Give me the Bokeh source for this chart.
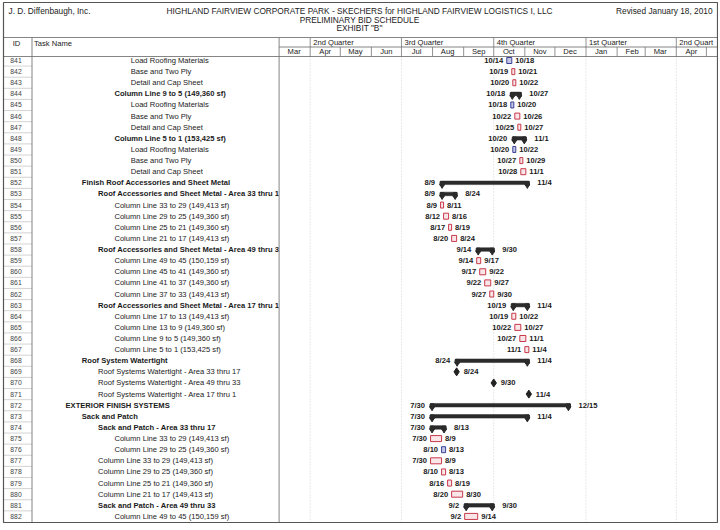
import pandas as pd
from bokeh.plotting import figure
from bokeh.models import Range1d, ColumnDataSource
from bokeh.core.properties import value
from bokeh.embed import file_html
from bokeh.resources import INLINE

# ---------------- data ----------------
ids = list(range(841, 883))
names = [
    "Load Roofing Materials", "Base and Two Ply", "Detail and Cap Sheet",
    "Column Line 9 to 5 (149,360 sf)",
    "Load Roofing Materials", "Base and Two Ply", "Detail and Cap Sheet",
    "Column Line 5 to 1 (153,425 sf)",
    "Load Roofing Materials", "Base and Two Ply", "Detail and Cap Sheet",
    "Finish Roof Accessories and Sheet Metal",
    "Roof Accessories and Sheet Metal - Area 33 thru 17",
    "Column Line 33 to 29 (149,413 sf)", "Column Line 29 to 25 (149,360 sf)",
    "Column Line 25 to 21 (149,360 sf)", "Column Line 21 to 17 (149,413 sf)",
    "Roof Accessories and Sheet Metal - Area 49 thru 33",
    "Column Line 49 to 45 (150,159 sf)", "Column Line 45 to 41 (149,360 sf)",
    "Column Line 41 to 37 (149,360 sf)", "Column Line 37 to 33 (149,413 sf)",
    "Roof Accessories and Sheet Metal - Area 17 thru 1",
    "Column Line 17 to 13 (149,413 sf)", "Column Line 13 to 9 (149,360 sf)",
    "Column Line 9 to 5 (149,360 sf)", "Column Line 5 to 1 (153,425 sf)",
    "Roof System Watertight",
    "Roof Systems Watertight - Area 33 thru 17",
    "Roof Systems Watertight - Area 49 thru 33",
    "Roof Systems Watertight - Area 17 thru 1",
    "EXTERIOR FINISH SYSTEMS",
    "Sack and Patch",
    "Sack and Patch - Area 33 thru 17",
    "Column Line 33 to 29 (149,413 sf)", "Column Line 29 to 25 (149,360 sf)",
    "Column Line 33 to 29 (149,413 sf)", "Column Line 29 to 25 (149,360 sf)",
    "Column Line 25 to 21 (149,360 sf)", "Column Line 21 to 17 (149,413 sf)",
    "Sack and Patch - Area 49 thru 33",
    "Column Line 49 to 45 (150,159 sf)",
]
levels = [4, 4, 4, 3, 4, 4, 4, 3, 4, 4, 4,
          1, 2, 3, 3, 3, 3, 2, 3, 3, 3, 3, 2, 3, 3, 3, 3,
          1, 2, 2, 2,
          0, 1, 2, 3, 3, 2, 2, 2, 2, 2, 3]
# t = critical task, n = non-critical task, s = summary, m = milestone
kinds = ["n", "t", "t", "s", "n", "t", "t", "s", "n", "t", "t",
         "s", "s", "t", "t", "t", "t", "s", "t", "t", "t", "t", "s", "t", "t", "t", "t",
         "s", "m", "m", "m",
         "s", "s", "s", "t", "n", "t", "t", "t", "t", "s", "t"]
starts = ["10/14", "10/19", "10/20", "10/18", "10/18", "10/22", "10/25", "10/20", "10/20", "10/27", "10/28",
          "8/9", "8/9", "8/9", "8/12", "8/17", "8/20", "9/14", "9/14", "9/17", "9/22", "9/27",
          "10/19", "10/19", "10/22", "10/27", "11/1",
          "8/24", "8/24", "9/30", "11/4",
          "7/30", "7/30", "7/30", "7/30", "8/10", "7/30", "8/10", "8/16", "8/20", "9/2", "9/2"]
finishes = ["10/18", "10/21", "10/22", "10/27", "10/20", "10/26", "10/27", "11/1", "10/22", "10/29", "11/1",
            "11/4", "8/24", "8/11", "8/16", "8/19", "8/24", "9/30", "9/17", "9/22", "9/27", "9/30",
            "11/4", "10/22", "10/27", "11/1", "11/4",
            "11/4", "8/24", "9/30", "11/4",
            "12/15", "11/4", "8/13", "8/9", "8/13", "8/9", "8/13", "8/19", "8/30", "9/30", "9/14"]
year = "2010"
month_labels = ["Mar", "Apr", "May", "Jun", "Jul", "Aug", "Sep", "Oct", "Nov", "Dec",
                "Jan", "Feb", "Mar", "Apr"]
quarter_labels = ["2nd Quarter", "3rd Quarter", "4th Quarter", "1st Quarter", "2nd Quart"]
quarter_starts = ["2010-04-01", "2010-07-01", "2010-10-01", "2011-01-01", "2011-04-01"]

# ---------------- layout constants (reference pixel space) ----------------
FIG_W, FIG_H = 718, 523
X0, X1 = 0.0, 718.0
Y0, Y1 = 0.0, 523.0
ROW0, ROWH = 60.0, 11.12
TL_LEFT = 278.6
PX_PER_DAY = 1.003
ID_RIGHT = 31.5
RIGHT = 717.0
BOTTOM = 522.0
FONT = value("Liberation Sans")


def ms(ts):
    return ts.value / 1e6


base = pd.Timestamp("2010-03-01")
t_start = base - pd.Timedelta(days=(TL_LEFT - X0) / PX_PER_DAY)
t_end = base + pd.Timedelta(days=(X1 - TL_LEFT) / PX_PER_DAY)

p = figure(width=FIG_W, height=FIG_H, x_range=Range1d(X0, X1), y_range=Range1d(Y1, Y0),
           output_backend="svg", toolbar_location=None, min_border=0,
           x_axis_location=None, y_axis_location=None)
p.extra_x_ranges = {"time": Range1d(ms(t_start), ms(t_end))}
p.extra_y_ranges = {"rows": Range1d((Y1 - ROW0) / ROWH, (Y0 - ROW0) / ROWH)}
p.grid.visible = False
p.outline_line_color = None
p.background_fill_color = "white"
p.border_fill_color = "white"

# ---------------- data frame ----------------
df = pd.DataFrame(dict(id=ids, name=names, level=levels, kind=kinds, s=starts, f=finishes))
df["row"] = range(len(df))
df["start"] = pd.to_datetime(year + "/" + df["s"], format="%Y/%m/%d")
df["finish"] = pd.to_datetime(year + "/" + df["f"], format="%Y/%m/%d")
df["end"] = df["finish"] + pd.Timedelta(days=1)
df["name_x"] = 65 + 16.3 * df["level"]
df["weight"] = ["bold" if k == "s" else "normal" for k in df["kind"]]
df["id_s"] = df["id"].astype(str)

# ---------------- gridlines (quarters) ----------------
q_ts = pd.to_datetime(quarter_starts)
p.segment(x0=q_ts, x1=q_ts, y0=56, y1=BOTTOM, x_range_name="time",
          line_color="#d2d2d2", line_width=1, line_dash="1 2")

# ---------------- table: IDs and names ----------------
row_src = ColumnDataSource(df[["row", "id_s", "name", "name_x", "weight"]])
p.text(x=15.5, y="row", text="id_s", source=row_src, y_range_name="rows",
       text_font=FONT, text_font_size="6.8px", text_color="#444444",
       text_align="center", text_baseline="middle")
p.text(x="name_x", y="row", text="name", source=row_src, y_range_name="rows",
       text_font=FONT, text_font_size="7.6px", text_font_style="weight", text_color="#1a1a1a",
       text_align="left", text_baseline="middle")
# cover name overflow past the task column
p.quad(left=278.6, right=308.5, bottom=BOTTOM, top=56.5, fill_color="white", line_color=None)

# ID cell separators
rb = [ROW0 + ROWH * (i + 0.5) for i in range(len(df) - 1)]
p.segment(x0=3, x1=ID_RIGHT, y0=rb, y1=rb, line_color="#c8c8c8", line_width=0.8)

# ---------------- bars ----------------
tasks = df[df["kind"].isin(["t", "n"])].copy()
tasks["fill"] = ["#c3c8e6" if k == "n" else "#f8e6e8" for k in tasks["kind"]]
tasks["line"] = ["#3a3f95" if k == "n" else "#c8384a" for k in tasks["kind"]]
tsrc = ColumnDataSource(tasks[["row", "start", "end", "fill", "line"]])
p.hbar(y="row", left="start", right="end", height=0.54, source=tsrc,
       x_range_name="time", y_range_name="rows",
       fill_color="fill", line_color="line", line_width=1)

summ = df[df["kind"] == "s"]
ssrc = ColumnDataSource(summ[["row", "start", "end"]])
p.hbar(y="row", left="start", right="end", height=0.32, source=ssrc,
       x_range_name="time", y_range_name="rows",
       fill_color="#2b2b2b", line_color="#2b2b2b", line_width=0.5)
cap_x = list(summ["start"] + pd.Timedelta(hours=36)) + list(summ["end"] - pd.Timedelta(hours=36))
cap_r = list(summ["row"]) * 2
caps_sq = pd.DataFrame(dict(x=cap_x, y=[r + 0.06 for r in cap_r]))
caps_tr = pd.DataFrame(dict(x=cap_x, y=[r + 0.24 for r in cap_r]))
p.scatter(x="x", y="y", source=ColumnDataSource(caps_sq), marker="square",
          size=4, x_range_name="time", y_range_name="rows",
          fill_color="#2b2b2b", line_color="#2b2b2b")
p.scatter(x="x", y="y", source=ColumnDataSource(caps_tr), marker="inverted_triangle",
          size=5, x_range_name="time", y_range_name="rows",
          fill_color="#2b2b2b", line_color="#2b2b2b")

mile = df[df["kind"] == "m"]
msrc = ColumnDataSource(mile[["row", "end"]])
p.scatter(x="end", y="row", source=msrc, marker="diamond", size=8,
          x_range_name="time", y_range_name="rows",
          fill_color="#222222", line_color="#222222")

# ---------------- date labels ----------------
lab_s = df[df["kind"] != "m"].copy()
lab_s["off"] = [-5.5 if k == "s" else -3.5 for k in lab_s["kind"]]
p.text(x="start", y="row", text="s", x_offset="off",
       source=ColumnDataSource(lab_s[["start", "row", "s", "off"]]),
       x_range_name="time", y_range_name="rows",
       text_font=FONT, text_font_size="7.6px", text_font_style="bold", text_color="#1a1a1a",
       text_align="right", text_baseline="middle")
lab_f = df.copy()
lab_f["off"] = [8.5 if k == "s" else (7.0 if k == "m" else 3.5) for k in lab_f["kind"]]
p.text(x="end", y="row", text="f", x_offset="off",
       source=ColumnDataSource(lab_f[["end", "row", "f", "off"]]),
       x_range_name="time", y_range_name="rows",
       text_font=FONT, text_font_size="7.6px", text_font_style="bold", text_color="#1a1a1a",
       text_align="left", text_baseline="middle")

# ---------------- header ----------------
hdr = dict(text_font=FONT, text_font_size="8.3px", text_color="#222222", text_baseline="middle")
p.text(x=[8], y=[10], text=["J. D. Diffenbaugh, Inc."], text_align="left", **hdr)
p.text(x=[712], y=[10], text=["Revised January 18, 2010"], text_align="right", **hdr)
p.text(x=[359, 359, 359], y=[10, 19, 27.5],
       text=["HIGHLAND FAIRVIEW CORPORATE PARK - SKECHERS for HIGHLAND FAIRVIEW LOGISTICS I, LLC",
             "PRELIMINARY BID SCHEDULE", "EXHIBIT \"B\""],
       text_align="center", **hdr)

col = dict(text_font=FONT, text_font_size="7.6px", text_color="#222222", text_baseline="middle")
p.text(x=[16], y=[42.5], text=["ID"], text_align="center", **col)
p.text(x=[33.5], y=[42.5], text=["Task Name"], text_align="left", **col)

m_starts = pd.date_range("2010-03-01", periods=len(month_labels), freq="MS")
m_mid = m_starts + pd.Timedelta(days=15)
p.text(x=m_mid, y=51.3, text=month_labels, x_range_name="time",
       text_align="center", **col)
p.text(x=q_ts, y=42.0, text=quarter_labels, x_offset=3, x_range_name="time",
       text_align="left", **col)

# header lines
m_div = pd.date_range("2010-04-01", "2011-05-01", freq="MS")
p.segment(x0=m_div, x1=m_div, y0=46.5, y1=56, x_range_name="time", line_color="#777777", line_width=0.8)
p.segment(x0=q_ts, x1=q_ts, y0=37, y1=46.5, x_range_name="time", line_color="#777777", line_width=0.8)
p.segment(x0=[3, 278.6, 3], x1=[RIGHT, RIGHT, RIGHT], y0=[37, 46.5, 56], y1=[37, 46.5, 56],
          line_color="#777777", line_width=0.9)
p.segment(x0=[ID_RIGHT, 278.6], x1=[ID_RIGHT, 278.6], y0=[37, 37], y1=[BOTTOM, BOTTOM],
          line_color="#777777", line_width=0.9)
# outer border
p.quad(left=3, right=RIGHT, top=2, bottom=BOTTOM, fill_color=None, line_color="#555555", line_width=1.2)

open("out.html", "w").write(file_html(p, INLINE))
